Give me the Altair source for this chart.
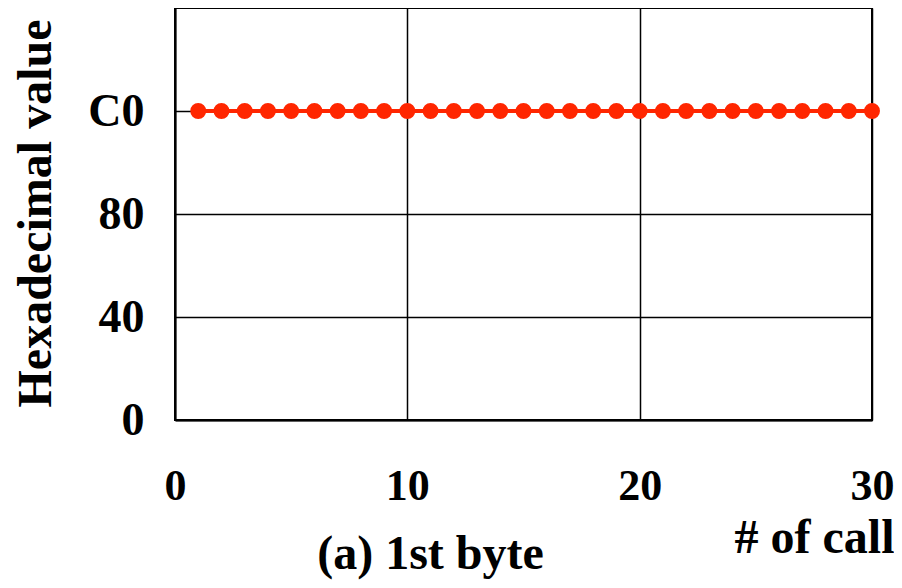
import altair as alt
import pandas as pd

# ---- data ----
call_numbers = [1, 2, 3, 4, 5, 6, 7, 8, 9, 10,
                11, 12, 13, 14, 15, 16, 17, 18, 19, 20,
                21, 22, 23, 24, 25, 26, 27, 28, 29, 30]
first_byte_hex = ["C0", "C0", "C0", "C0", "C0", "C0", "C0", "C0", "C0", "C0",
                  "C0", "C0", "C0", "C0", "C0", "C0", "C0", "C0", "C0", "C0",
                  "C0", "C0", "C0", "C0", "C0", "C0", "C0", "C0", "C0", "C0"]
x_ticks = [0, 10, 20, 30]
y_tick_labels = ["0", "40", "80", "C0"]
y_ticks = [int(v, 16) for v in y_tick_labels]

df = pd.DataFrame({
    "call": call_numbers,
    "value": [int(v, 16) for v in first_byte_hex],
})

FONT = "Liberation Serif"
RED = "#FF2600"

label_map = "{" + ",".join(f"'{t}':'{l}'" for t, l in zip(y_ticks, y_tick_labels)) + "}"

x_enc = alt.X(
    "call:Q",
    scale=alt.Scale(domain=[0, 30], nice=False, zero=False),
    axis=alt.Axis(
        values=x_ticks, title="# of call", grid=True, ticks=False,
        labelFlush=False, labelPadding=44, labelBaseline="top", labelFontSize=44,
        titleAnchor="end", titleAlign="right", titleX=719, titleY=132,
        titleBaseline="alphabetic",
    ),
)
y_enc = alt.Y(
    "value:Q",
    scale=alt.Scale(domain=[0, 256], nice=False),
    axis=alt.Axis(
        values=y_ticks, title="Hexadecimal value", grid=True, ticks=False,
        labelExpr=f"{label_map}[datum.value + '']",
        labelPadding=31, labelBaseline="middle", labelFlush=False,
        titleAngle=-90, titleX=-125, titleY=205, titleBaseline="alphabetic",
        titleAlign="center",
    ),
)

line = alt.Chart(df).mark_line(color=RED, strokeWidth=4).encode(x=x_enc, y=y_enc)
pts = alt.Chart(df).mark_point(filled=True, color=RED, size=254, opacity=1).encode(
    x="call:Q", y="value:Q"
)

chart = (
    alt.layer(line, pts)
    .properties(
        width=697,
        height=412,
        autosize=alt.AutoSizeParams(type="none"),
        padding={"left": 167, "top": 0, "right": 22, "bottom": 160},
        title=alt.TitleParams(
            "(a) 1st byte", orient="bottom", anchor="middle", dx=-93, dy=-35,
            font=FONT, fontSize=48, fontWeight="bold", color="black",
        ),
    )
    .configure(background="white")
    .configure_view(stroke="black", strokeWidth=2)
    .configure_axis(
        labelFont=FONT, labelFontSize=46, labelFontWeight="bold", labelColor="black",
        titleFont=FONT, titleFontSize=48, titleFontWeight="bold", titleColor="black",
        gridColor="black", gridWidth=1.5, gridOpacity=1,
        domainColor="black", domainWidth=2,
    )
)

chart.save("out.html", embed_options={"renderer": "svg", "actions": False})
